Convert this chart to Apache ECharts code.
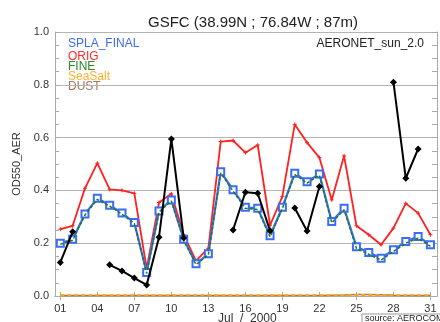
<!DOCTYPE html>
<html>
<head>
<meta charset="utf-8">
<script src="https://cdn.jsdelivr.net/npm/echarts@6/dist/echarts.min.js"></script>
<style>html,body{margin:0;padding:0;background:#fff;}#c{width:440px;height:322px;}</style>
</head>
<body>
<div id="c"></div>
<script>
var days = [1,2,3,4,5,6,7,8,9,10,11,12,13,14,15,16,17,18,19,20,21,22,23,24,25,26,27,28,29,30,31];
var xTickLabels = [1,4,7,10,13,16,19,22,25,28,31];
var topTicks = [1,7,13,19,25,31];
var splaFinal = [0.200,0.215,0.311,0.370,0.344,0.314,0.278,0.089,0.322,0.364,0.215,0.122,0.160,0.471,0.402,0.336,0.332,0.228,0.336,0.465,0.433,0.462,0.282,0.332,0.187,0.165,0.143,0.175,0.206,0.225,0.194];
var orig = [0.253,0.266,0.408,0.503,0.404,0.400,0.389,0.105,0.354,0.387,0.232,0.133,0.181,0.585,0.589,0.543,0.572,0.268,0.377,0.650,0.581,0.524,0.364,0.531,0.266,0.232,0.194,0.257,0.351,0.314,0.232];
var fine = [0.196,0.211,0.307,0.366,0.340,0.310,0.274,0.086,0.318,0.360,0.211,0.119,0.156,0.466,0.397,0.332,0.328,0.224,0.332,0.460,0.428,0.457,0.277,0.327,0.181,0.158,0.136,0.169,0.200,0.219,0.188];
var seaSalt = [0.003,0.003,0.003,0.003,0.003,0.003,0.003,0.003,0.003,0.003,0.003,0.003,0.003,0.003,0.003,0.003,0.003,0.003,0.003,0.003,0.003,0.003,0.003,0.003,0.004,0.004,0.004,0.003,0.003,0.003,0.003];
var dust = [0.002,0.002,0.002,0.002,0.002,0.002,0.002,0.002,0.002,0.002,0.002,0.002,0.002,0.002,0.002,0.002,0.002,0.002,0.002,0.002,0.002,0.002,0.003,0.004,0.006,0.006,0.005,0.003,0.002,0.002,0.002];
var aeronet = [0.127,0.243,null,null,0.118,0.095,0.068,0.042,0.223,0.595,0.220,null,null,null,0.250,0.393,0.389,0.247,null,0.333,0.246,0.415,null,null,null,null,null,0.810,0.446,0.557,null];
var yTicks = [0,0.2,0.4,0.6,0.8,1.0];

function pairs(vals){ return days.map(function(d,i){ return [d, vals[i]]; }); }
function pad(v){ return (v<10?'0':'')+v; }

var FONT = 'Liberation Sans';
var chart = echarts.init(document.getElementById('c'), null, {renderer:'canvas'});
chart.setOption({
  animation:false,
  backgroundColor:'#fff',
  grid:{left:55, right:3, top:32, bottom:26, show:false},
  xAxis:[{
    type:'value', min:0.57, max:31.53, position:'bottom',
    axisLine:{show:true, lineStyle:{color:'#aaa', width:1}},
    axisTick:{show:true, inside:true, length:4, customValues:xTickLabels, lineStyle:{color:'#aaa'}},
    axisLabel:{show:true, customValues:xTickLabels, formatter:function(v){return pad(Math.round(v));}, color:'#333', fontFamily:FONT, fontSize:11, margin:7},
    splitLine:{show:false}
  },{
    type:'value', min:0.57, max:31.53, position:'top',
    axisLine:{show:true, lineStyle:{color:'#aaa', width:1}},
    axisTick:{show:true, inside:true, length:4, customValues:topTicks, lineStyle:{color:'#aaa'}},
    axisLabel:{show:false},
    splitLine:{show:false}
  }],
  yAxis:[{
    type:'value', min:0, max:1.0, interval:0.2, position:'left',
    name:'OD550_AER', nameLocation:'middle', nameGap:30, nameRotate:90,
    nameTextStyle:{color:'#333', fontFamily:FONT, fontSize:11},
    axisLine:{show:true, lineStyle:{color:'#aaa', width:1}},
    axisTick:{show:true, inside:true, length:4, lineStyle:{color:'#aaa'}},
    minorTick:{show:true, splitNumber:4, length:4, lineStyle:{color:'#aaa'}},
    axisLabel:{color:'#333', fontFamily:FONT, fontSize:11, margin:6, formatter:function(v){return v.toFixed(1);}},
    splitLine:{show:true, lineStyle:{color:'#b4b4b4', width:1}}
  },{
    type:'value', min:0, max:1.0, interval:0.2, position:'right',
    axisLine:{show:true, lineStyle:{color:'#aaa', width:1}},
    axisTick:{show:true, inside:true, length:5, lineStyle:{color:'#aaa'}},
    minorTick:{show:true, splitNumber:4, length:5, lineStyle:{color:'#aaa'}},
    axisLabel:{show:false},
    splitLine:{show:false}
  }],
  title:{text:'GSFC (38.99N ; 76.84W ; 87m)', left:248, top:10, textAlign:'center',
    textStyle:{fontFamily:FONT, fontSize:15, fontWeight:'normal', color:'#222'}},
  graphic:[
    {type:'text', left:68, top:38, style:{text:'SPLA_FINAL', fill:'#3b6cf6', font:'12px "Liberation Sans"'}},
    {type:'text', left:68, top:51, style:{text:'ORIG', fill:'#ff2a2a', font:'12px "Liberation Sans"'}},
    {type:'text', left:68, top:61, style:{text:'FINE', fill:'#2a8a2a', font:'12px "Liberation Sans"'}},
    {type:'text', left:68, top:71, style:{text:'SeaSalt', fill:'#ffb02a', font:'12px "Liberation Sans"'}},
    {type:'text', left:68, top:81, style:{text:'DUST', fill:'#a8735a', font:'12px "Liberation Sans"'}},
    {type:'text', right:16, top:38, style:{text:'AERONET_sun_2.0', fill:'#222', font:'12px "Liberation Sans"'}},
    {type:'text', left:218, top:313, style:{text:'Jul  /  2000', fill:'#333', font:'12px "Liberation Sans"'}},
    {type:'rect', shape:{x:362, y:314, width:80, height:12}, style:{fill:'#fff', stroke:'#999', lineWidth:1}, z:100},
    {type:'text', left:365, top:314, z:101, style:{text:'source: AEROCOM', fill:'#222', font:'9px "Liberation Sans"'}}
  ],
  series:[
    {type:'line', name:'DUST', data:pairs(dust), symbol:'none', lineStyle:{color:'#a8735a', width:1.5}, z:2},
    {type:'line', name:'SeaSalt', data:pairs(seaSalt), symbol:'none', lineStyle:{color:'#ffa500', width:2, type:[4,3]}, z:3},
    {type:'line', name:'ORIG', data:pairs(orig), symbol:'path://M0,5L10,5M5,0L5,10M0,5', symbolSize:4,
      itemStyle:{color:'#ff2020', borderColor:'#ff2020', borderWidth:1}, lineStyle:{color:'#ff2020', width:1.8}, z:4},
    {type:'line', name:'SPLA_FINAL', data:pairs(splaFinal), symbol:'emptyRect', symbolSize:7,
      itemStyle:{color:'#3b6cf6', borderColor:'#3b6cf6', borderWidth:1.5}, lineStyle:{color:'#3b6cf6', width:2.2}, z:5},
    {type:'line', name:'FINE', data:pairs(fine), symbol:'none', lineStyle:{color:'#1f7a1f', width:1.5, type:[3,2]}, z:6},
    {type:'line', name:'AERONET', data:pairs(aeronet), connectNulls:false, symbol:'diamond', symbolSize:7,
      itemStyle:{color:'#000'}, lineStyle:{color:'#000', width:2}, z:7}
  ]
});
</script>
</body>
</html>
